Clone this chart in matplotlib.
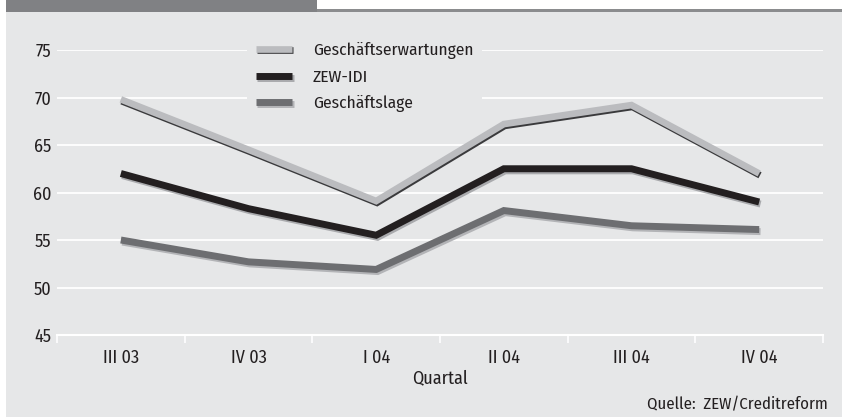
import numpy as np
import matplotlib.pyplot as plt
import matplotlib.patheffects as pe
from matplotlib.patches import Rectangle

quartale = ['III 03', 'IV 03', 'I 04', 'II 04', 'III 04', 'IV 04']
erwartungen = [69.8, 64.5, 59.1, 67.2, 69.2, 62.0]
zew_idi = [62.0, 58.3, 55.5, 62.5, 62.5, 59.0]
lage = [55.0, 52.7, 51.9, 58.1, 56.5, 56.1]
y_ticks = [45, 50, 55, 60, 65, 70, 75]

plt.rcParams['font.family'] = ['Fira Sans Condensed', 'PT Sans Narrow', 'DejaVu Sans']

bg = '#e6e7e8'
txt = '#231f20'
W, H = 842, 417
fig = plt.figure(figsize=(W / 100, H / 100), dpi=100)

# background panel and header band
fig.add_artist(Rectangle((6 / W, 0), 1 - 6 / W, (H - 12) / H, transform=fig.transFigure,
                         facecolor=bg, edgecolor='none', zorder=-10))
fig.add_artist(Rectangle((6 / W, (H - 12) / H), (317 - 6) / W, 12 / H, transform=fig.transFigure,
                         facecolor='#808184', edgecolor='none', zorder=-10))
fig.add_artist(Rectangle((317 / W, (H - 12) / H), 1 - 317 / W, 3 / H, transform=fig.transFigure,
                         facecolor='#8b8c8e', edgecolor='none', zorder=-10))

ax = fig.add_axes([57 / W, (H - 335) / H, (823 - 57) / W, (335 - 50) / H])
ax.set_facecolor(bg)
x = np.arange(len(quartale))

ax.plot(x, erwartungen, color='#bbbcbf', lw=4.8, solid_capstyle='butt', solid_joinstyle='miter',
        label='Geschäftserwartungen', zorder=3,
        path_effects=[pe.SimpleLineShadow(offset=(0.6, -1.3), shadow_color='#3a3a3c', alpha=1),
                      pe.Normal()])
ax.plot(x, zew_idi, color='#231f20', lw=5, solid_capstyle='butt', solid_joinstyle='miter',
        label='ZEW-IDI', zorder=3,
        path_effects=[pe.SimpleLineShadow(offset=(1, -1.5), shadow_color='#a9aaad', alpha=1),
                      pe.Normal()])
ax.plot(x, lage, color='#6d6e71', lw=5, solid_capstyle='butt', solid_joinstyle='miter',
        label='Geschäftslage', zorder=3,
        path_effects=[pe.SimpleLineShadow(offset=(1, -1.5), shadow_color='#b3b4b7', alpha=1),
                      pe.Normal()])

ax.set_xlim(-0.5, len(quartale) - 0.5)
ax.set_ylim(45, 75)
ax.set_yticks(y_ticks)
ax.set_yticklabels([str(v) for v in y_ticks], fontsize=13, color=txt)
ax.set_xticks(x)
ax.set_xticklabels(quartale, fontsize=13, color=txt)
ax.set_xticks(np.arange(-0.5, len(quartale)), minor=True)
ax.tick_params(axis='x', which='major', length=0, pad=10)
ax.tick_params(axis='x', which='minor', length=6, width=1.2, color='white')
ax.tick_params(axis='y', length=0, pad=4)
for s in ['top', 'right', 'left']:
    ax.spines[s].set_visible(False)
ax.spines['bottom'].set_color('white')
ax.spines['bottom'].set_linewidth(1.5)
ax.yaxis.grid(True, color='white', lw=1.3)
ax.set_axisbelow(True)
ax.set_xlabel('Quartal', fontsize=13, color=txt, labelpad=2)

leg = ax.legend(loc='upper left', bbox_to_anchor=(190 / 766, 1.06), frameon=True,
                facecolor=bg, edgecolor='none', framealpha=1, fontsize=12.5,
                handlelength=2.1, handletextpad=1.2, labelspacing=0.6, borderpad=0.5,
                borderaxespad=0)
leg.set_zorder(2.5)
for t in leg.get_texts():
    t.set_color(txt)

fig.text(828 / W, 1 - 405 / H, 'Quelle:  ZEW/Creditreform', ha='right', va='center',
         fontsize=12, color=txt)

fig.savefig('out.png', dpi=100)
